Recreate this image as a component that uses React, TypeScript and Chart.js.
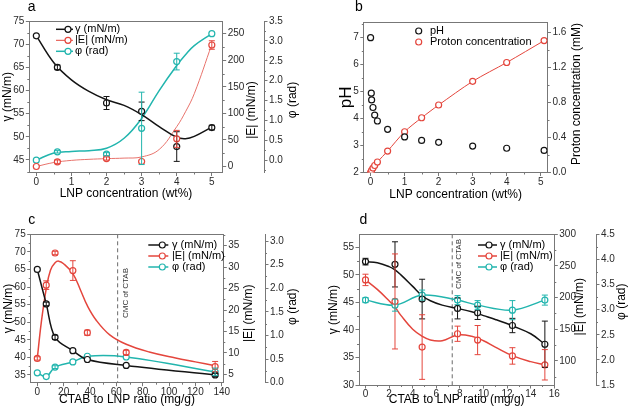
import React, { useEffect, useRef } from "react";
import { Chart, registerables } from "chart.js";

Chart.register(...registerables);

const FONT = "'Liberation Sans', Arial, Helvetica, sans-serif";
const BLACK = "#141414";
const RED = "#e4463d";
const RED_A = "#e8736c";
const CYAN = "#22b5ae";
const AXIS = "#777777";
const TICK = "#2a2a2a";

// ---------- Panel a ----------
const aX = [0, 0.6, 2, 3, 4, 5];
const aGamma = [71.8, 65.0, 57.3, 55.5, 47.9, 52.0];
const aGammaErr = [0, 0.5, 1.4, 2.0, 3.2, 0.5];
const aE = [0, 8.8, 15, 9.4, 52, 228.7];
const aEErr = [0, 3.5, 3, 0, 16, 8];
const aPhi = [0.0, 0.21, 0.15, 0.8, 2.48, 3.18];
const aPhiErr = [0, 0.03, 0.04, 0.91, 0.21, 0];
const aFitX = [0, 0.5, 1, 1.5, 2, 2.5, 3, 3.5, 4, 4.25, 4.5, 5];
const aGammaFit = [71.8, 66.0, 62.3, 59.8, 58.0, 56.8, 54.8, 52.2, 49.9, 49.6, 50.1, 52.1];
const aEFit = [0, 7.5, 11.5, 13.5, 14.8, 15.8, 18, 32, 75, 103, 137, 230];
const aPhiFit = [0.0, 0.18, 0.22, 0.24, 0.3, 0.55, 1.05, 1.75, 2.38, 2.65, 2.88, 3.18];
const aXTicks = [0, 1, 2, 3, 4, 5];
const aGammaTicks = [45, 50, 55, 60, 65, 70, 75];
const aETicks = [0, 50, 100, 150, 200, 250];
const aPhiTicks = [0, 0.5, 1, 1.5, 2, 2.5, 3, 3.5];

// ---------- Panel b ----------
const bX = [0, 0.02, 0.03, 0.07, 0.12, 0.2, 0.5, 1, 1.5, 2, 3, 4, 5.1];
const bPH = [7.0, 4.94, 4.69, 4.41, 4.13, 3.91, 3.6, 3.32, 3.19, 3.12, 2.98, 2.9, 2.82];
const bProton = [0.0, 0.01, 0.025, 0.05, 0.08, 0.12, 0.245, 0.465, 0.625, 0.77, 1.04, 1.255, 1.505];
const bXTicks = [0, 1, 2, 3, 4, 5];
const bPHTicks = [2, 3, 4, 5, 6, 7];
const bProtonTicks = [0, 0.4, 0.8, 1.2, 1.6];

// ---------- Panel c ----------
const cX = [0, 6.8, 13.5, 27, 38, 67.5, 135];
const cGamma = [65.0, 55.2, 45.7, 41.9, 39.4, 37.7, 35.0];
const cGammaErr = [0, 0.5, 0.6, 0, 0, 0, 0.4];
const cE = [8.7, 25.8, 33.3, 29.2, 14.7, 10.1, 6.8];
const cEErr = [0.4, 1.0, 0.4, 2.3, 0.6, 0.5, 1.2];
const cPhi = [0.21, 0.13, 0.33, 0.44, 0.56, 0.545, 0.23];
const cPhiErr = [0, 0, 0.03, 0, 0, 0, 0.08];
const cEFitX = [0, 3, 6.8, 10, 13.5, 16.2, 20, 27, 33, 38, 45, 55, 67.5, 85, 105, 120, 135];
const cEFit = [8.7, 17, 25, 29.3, 31, 31.4, 30.8, 28.5, 24.5, 21, 17.5, 14.2, 12, 10.2, 8.8, 7.9, 7];
const cXTicks = [0, 20, 40, 60, 80, 100, 120, 140];
const cGammaTicks = [35, 40, 45, 50, 55, 60, 65, 70, 75];
const cETicks = [5, 10, 15, 20, 25, 30, 35];
const cPhiTicks = [0, 0.5, 1, 1.5, 2, 2.5, 3];
const cCMC = 61;

// ---------- Panel d ----------
const dX = [0, 2.5, 4.8, 7.8, 9.5, 12.45, 15.2];
const dGamma = [52.4, 51.9, 45.6, 43.9, 43.1, 40.8, 37.4];
const dGammaErr = [0.6, 4.1, 3.6, 1.9, 1.2, 1.3, 4.2];
const dE = [228, 194, 122, 143, 133, 108, 94];
const dEErr = [9, 75, 51, 12, 23, 13, 24];
const dPhi = [3.19, 3.09, 3.29, 3.19, 3.09, 2.99, 3.19];
const dPhiErr = [0.05, 0.12, 0.1, 0.09, 0.09, 0.19, 0.1];
const dFitX = [0, 1, 2, 2.5, 3, 4, 4.8, 5.5, 6.5, 7.8, 9, 10, 11, 12.5, 14, 15.2];
const dGammaFit = [52.4, 52.2, 51.5, 50.9, 50.0, 47.9, 46.2, 45.3, 44.5, 43.9, 43.3, 42.6, 41.9, 40.7, 39.3, 37.4];
const dEFit = [228, 213, 195, 185, 172, 150, 139, 133, 132, 141, 139, 132, 122, 108, 99, 94];
const dXTicks = [0, 2, 4, 6, 8, 10, 12, 14, 16];
const dGammaTicks = [30, 35, 40, 45, 50, 55];
const dETicks = [100, 150, 200, 250, 300];
const dPhiTicks = [1.5, 2, 2.5, 3, 3.5, 4, 4.5];
const dCMC = 7.35;

const LEG_GAMMA = "γ (mN/m)";
const LEG_E = "|E| (mN/m)";
const LEG_PHI = "φ (rad)";

function pts(xs: number[], ys: number[]) {
  return xs.map((x, i) => ({ x, y: ys[i] }));
}

function pointDs(xs: number[], ys: number[], color: string, axis: string, errs?: number[]) {
  return {
    data: pts(xs, ys),
    yAxisID: axis,
    showLine: false,
    borderColor: color,
    backgroundColor: "#ffffff",
    pointRadius: 3,
    pointBorderWidth: 1.2,
    pointBackgroundColor: "#ffffff",
    pointBorderColor: color,
    errors: errs,
  };
}

function curveDs(xs: number[], ys: number[], color: string, axis: string, width: number, tension = 0.4) {
  return {
    data: pts(xs, ys),
    yAxisID: axis,
    borderColor: color,
    borderWidth: width,
    pointRadius: 0,
    tension,
    fill: false,
  };
}

function axisOpt(o: any) {
  const horizontal = o.pos === "bottom";
  return {
    type: "linear",
    position: o.pos,
    min: o.min,
    max: o.max,
    weight: o.weight ?? 0,
    afterBuildTicks: (s: any) => {
      s.ticks = o.ticks.map((v: number) => ({ value: v }));
    },
    afterFit: (s: any) => {
      if (horizontal) s.height = o.size;
      else s.width = o.size;
    },
    grid: { display: true, drawOnChartArea: false, drawTicks: true, tickLength: 3.5, color: AXIS, lineWidth: 1 },
    border: { display: true, color: AXIS, width: 1 },
    ticks: {
      autoSkip: false,
      maxRotation: 0,
      minRotation: 0,
      padding: horizontal ? 0 : 1.5,
      color: TICK,
      font: { family: FONT, size: 10 },
      callback: (v: any) => Number(v).toFixed(o.dec ?? 0),
    },
    title: o.title
      ? {
          display: true,
          text: o.title,
          color: "#000",
          font: { family: FONT, size: o.titleSize ?? 12 },
          padding: horizontal ? { top: 0, bottom: o.titlePad } : { top: o.titlePad, bottom: 0 },
        }
      : { display: false },
  };
}

function decorPlugin(d: any) {
  return {
    id: "decor",
    beforeDatasetsDraw(chart: any) {
      const ctx = chart.ctx;
      const { top, bottom } = chart.chartArea;
      if (d.cmc) {
        const x = chart.scales.x.getPixelForValue(d.cmc.value);
        ctx.save();
        ctx.strokeStyle = "#6a6a6a";
        ctx.lineWidth = 1;
        ctx.setLineDash([4, 3]);
        ctx.beginPath();
        ctx.moveTo(x, top);
        ctx.lineTo(x, bottom);
        ctx.stroke();
        ctx.setLineDash([]);
        ctx.translate(x + d.cmc.dx, d.cmc.y);
        ctx.rotate(-Math.PI / 2);
        ctx.fillStyle = "#333";
        ctx.font = `8px ${FONT}`;
        ctx.textAlign = "center";
        ctx.textBaseline = "middle";
        ctx.fillText(d.cmc.text, 0, 0);
        ctx.restore();
      }
    },
    afterDatasetsDraw(chart: any) {
      const ctx = chart.ctx;
      const a = chart.chartArea;
      ctx.save();
      ctx.beginPath();
      ctx.rect(a.left, a.top - 2, a.right - a.left, a.bottom - a.top + 4);
      ctx.clip();
      chart.data.datasets.forEach((ds: any) => {
        if (!ds.errors) return;
        const ys = chart.scales[ds.yAxisID];
        const xs = chart.scales.x;
        ctx.strokeStyle = ds.borderColor;
        ctx.lineWidth = 1;
        ds.data.forEach((p: any, j: number) => {
          const e = ds.errors[j];
          if (!e) return;
          const x = xs.getPixelForValue(p.x);
          const y1 = ys.getPixelForValue(p.y + e);
          const y2 = ys.getPixelForValue(p.y - e);
          ctx.beginPath();
          ctx.moveTo(x, y1);
          ctx.lineTo(x, y2);
          ctx.moveTo(x - 3, y1);
          ctx.lineTo(x + 3, y1);
          ctx.moveTo(x - 3, y2);
          ctx.lineTo(x + 3, y2);
          ctx.stroke();
        });
      });
      ctx.restore();
    },
    afterDraw(chart: any) {
      const ctx = chart.ctx;
      const a = chart.chartArea;
      ctx.save();
      // top frame
      ctx.strokeStyle = AXIS;
      ctx.lineWidth = 1;
      ctx.beginPath();
      ctx.moveTo(a.left, Math.round(a.top) + 0.5);
      ctx.lineTo(a.right, Math.round(a.top) + 0.5);
      ctx.stroke();
      // minor ticks
      Object.values(chart.scales).forEach((s: any) => {
        const vals = s.ticks.map((t: any) => t.value);
        if (vals.length < 2) return;
        const step = vals[1] - vals[0];
        const minors: number[] = [];
        for (let i = 0; i < vals.length - 1; i++) minors.push((vals[i] + vals[i + 1]) / 2);
        if (vals[0] - step / 2 >= s.min) minors.push(vals[0] - step / 2);
        if (vals[vals.length - 1] + step / 2 <= s.max) minors.push(vals[vals.length - 1] + step / 2);
        ctx.beginPath();
        minors.forEach((v) => {
          const p = Math.round(s.getPixelForValue(v)) + 0.5;
          if (s.position === "bottom") {
            ctx.moveTo(p, s.top);
            ctx.lineTo(p, s.top + 2);
          } else if (s.position === "left") {
            ctx.moveTo(s.right, p);
            ctx.lineTo(s.right - 2, p);
          } else {
            ctx.moveTo(s.left, p);
            ctx.lineTo(s.left + 2, p);
          }
        });
        ctx.stroke();
      });
      // right titles
      (d.rightTitles || []).forEach((t: any) => {
        ctx.save();
        ctx.translate(t.x, t.y);
        ctx.rotate(-Math.PI / 2);
        ctx.fillStyle = "#000";
        ctx.font = `${t.size || 12}px ${FONT}`;
        ctx.textAlign = "center";
        ctx.textBaseline = "middle";
        ctx.fillText(t.text, 0, 0);
        ctx.restore();
      });
      // legend
      const lg = d.legend;
      if (lg) {
        lg.items.forEach((it: any, i: number) => {
          const y = lg.y0 + i * lg.dy;
          if (it.line) {
            ctx.strokeStyle = it.color;
            ctx.lineWidth = it.lw;
            ctx.beginPath();
            ctx.moveTo(lg.x0, y);
            ctx.lineTo(lg.x0 + lg.len, y);
            ctx.stroke();
          }
          const cx = lg.x0 + lg.mk;
          ctx.beginPath();
          ctx.arc(cx, y, 3, 0, Math.PI * 2);
          ctx.fillStyle = "#fff";
          ctx.fill();
          ctx.strokeStyle = it.color;
          ctx.lineWidth = 1.2;
          ctx.stroke();
          ctx.fillStyle = "#000";
          ctx.font = `11px ${FONT}`;
          ctx.textAlign = "left";
          ctx.textBaseline = "middle";
          ctx.fillText(it.label, lg.tx, y);
        });
      }
      // panel letter
      if (d.letter) {
        ctx.fillStyle = "#000";
        ctx.font = `14px ${FONT}`;
        ctx.textAlign = "center";
        ctx.textBaseline = "middle";
        ctx.fillText(d.letter.text, d.letter.x, d.letter.y);
      }
      ctx.restore();
    },
  };
}

function baseOptions(padding: any, scales: any) {
  return {
    responsive: false,
    animation: false,
    devicePixelRatio: 1,
    events: [],
    layout: { padding },
    plugins: { legend: { display: false }, tooltip: { enabled: false }, title: { display: false } },
    scales,
  };
}

const threeLegend = (x0: number, y0: number, len: number, mk: number, tx: number, redLw: number) => ({
  x0,
  y0,
  dy: 11,
  len,
  mk,
  tx,
  items: [
    { label: LEG_GAMMA, color: BLACK, line: true, lw: 1.5 },
    { label: LEG_E, color: RED, line: true, lw: redLw },
    { label: LEG_PHI, color: CYAN, line: true, lw: 1.5 },
  ],
});

function configA() {
  return {
    type: "line",
    data: {
      datasets: [
        pointDs(aX, aGamma, BLACK, "y", aGammaErr),
        pointDs(aX, aE, RED, "y1", aEErr),
        pointDs(aX, aPhi, CYAN, "y2", aPhiErr),
        curveDs(aFitX, aGammaFit, BLACK, "y", 1.5),
        curveDs(aFitX, aEFit, RED_A, "y1", 1),
        curveDs(aFitX, aPhiFit, CYAN, "y2", 1.5),
      ],
    },
    options: baseOptions(
      { left: 0, top: 21, right: 11, bottom: 0 },
      {
        x: axisOpt({ pos: "bottom", min: -0.2, max: 5.31, ticks: aXTicks, size: 32.5, title: "LNP concentration (wt%)", titlePad: 4.5 }),
        y: axisOpt({ pos: "left", min: 42.3, max: 75, ticks: aGammaTicks, size: 29.3, title: "γ (mN/m)", titlePad: 0 }),
        y1: axisOpt({ pos: "right", min: -11.3, max: 273.9, ticks: aETicks, size: 41.3, weight: 0 }),
        y2: axisOpt({ pos: "right", min: -0.31, max: 3.5, ticks: aPhiTicks, size: 40, weight: 1, dec: 1 }),
      }
    ),
    plugins: [
      decorPlugin({
        letter: { text: "a", x: 31.7, y: 7.5 },
        rightTitles: [
          { text: "|E| (mN/m)", x: 252, y: 110 },
          { text: "φ (rad)", x: 292.5, y: 100 },
        ],
        legend: threeLegend(56, 29.3, 17, 12, 75, 1),
      }),
    ],
  };
}

function configB() {
  const red = pointDs(bX, bProton, RED, "y1") as any;
  red.showLine = true;
  red.borderWidth = 1;
  red.tension = 0.3;
  return {
    type: "line",
    data: {
      datasets: [pointDs(bX, bPH, BLACK, "y"), red],
    },
    options: baseOptions(
      { left: 0, top: 22.3, right: 0, bottom: 0 },
      {
        x: axisOpt({ pos: "bottom", min: -0.2, max: 5.2, ticks: bXTicks, size: 32.5, title: "LNP concentration (wt%)", titlePad: 3.5 }),
        y: axisOpt({ pos: "left", min: 2, max: 7.57, ticks: bPHTicks, size: 48.8, title: "pH", titleSize: 17, titlePad: 21.5 }),
        y1: axisOpt({ pos: "right", min: 0, max: 1.714, ticks: bProtonTicks, size: 82.5, dec: 1 }),
      }
    ),
    plugins: [
      decorPlugin({
        letter: { text: "b", x: 44, y: 7.5 },
        rightTitles: [{ text: "Proton concentration (mM)", x: 261.7, y: 94 }],
        legend: {
          x0: 103.7,
          y0: 31,
          dy: 11,
          len: 0,
          mk: 0,
          tx: 115,
          items: [
            { label: "pH", color: BLACK, line: false },
            { label: "Proton concentration", color: RED, line: false },
          ],
        },
      }),
    ],
  };
}

function configC() {
  return {
    type: "line",
    data: {
      datasets: [
        pointDs(cX, cGamma, BLACK, "y", cGammaErr),
        pointDs(cX, cE, RED, "y1", cEErr),
        pointDs(cX, cPhi, CYAN, "y2", cPhiErr),
        curveDs(cX, cGamma, BLACK, "y", 1.5, 0.35),
        curveDs(cEFitX, cEFit, RED, "y1", 1.5),
        curveDs(cX, cPhi, CYAN, "y2", 1.5, 0.35),
      ],
    },
    options: baseOptions(
      { left: 0, top: 29.3, right: 10, bottom: 0 },
      {
        x: axisOpt({ pos: "bottom", min: -5, max: 141.2, ticks: cXTicks, size: 33.3, title: "CTAB to LNP ratio (mg/g)", titlePad: 9.5 }),
        y: axisOpt({ pos: "left", min: 32.8, max: 75, ticks: cGammaTicks, size: 30.7, title: "γ (mN/m)", titlePad: 1.1 }),
        y1: axisOpt({ pos: "right", min: 3.04, max: 37.66, ticks: cETicks, size: 41.7, weight: 0 }),
        y2: axisOpt({ pos: "right", min: 0, max: 3.144, ticks: cPhiTicks, size: 40, weight: 1, dec: 1 }),
      }
    ),
    plugins: [
      decorPlugin({
        letter: { text: "c", x: 31.7, y: 15 },
        rightTitles: [
          { text: "|E| (mN/m)", x: 248.3, y: 108.3 },
          { text: "φ (rad)", x: 292.3, y: 101.7 },
        ],
        legend: threeLegend(148.3, 40, 20, 14, 172, 1.5),
        cmc: { value: cCMC, text: "CMC of CTAB", dx: 7.7, y: 88 },
      }),
    ],
  };
}

function configD() {
  return {
    type: "line",
    data: {
      datasets: [
        pointDs(dX, dGamma, BLACK, "y", dGammaErr),
        pointDs(dX, dE, RED, "y1", dEErr),
        pointDs(dX, dPhi, CYAN, "y2", dPhiErr),
        curveDs(dFitX, dGammaFit, BLACK, "y", 1.5),
        curveDs(dFitX, dEFit, RED, "y1", 1.5),
        curveDs(dX, dPhi, CYAN, "y2", 1.5, 0.35),
      ],
    },
    options: baseOptions(
      { left: 0, top: 29.3, right: 4, bottom: 0 },
      {
        x: axisOpt({ pos: "bottom", min: -0.55, max: 16, ticks: dXTicks, size: 31, title: "CTAB to LNP ratio (mg/g)", titlePad: 9.5 }),
        y: axisOpt({ pos: "left", min: 30, max: 57.36, ticks: dGammaTicks, size: 44, title: "γ (mN/m)", titlePad: 11.1 }),
        y1: axisOpt({ pos: "right", min: 62.1, max: 300, ticks: dETicks, size: 41.7, weight: 0 }),
        y2: axisOpt({ pos: "right", min: 1.5, max: 4.5, ticks: dPhiTicks, size: 30, weight: 1, dec: 1 }),
      }
    ),
    plugins: [
      decorPlugin({
        letter: { text: "d", x: 48.3, y: 15 },
        rightTitles: [
          { text: "|E| (mN/m)", x: 264.5, y: 101.7 },
          { text: "φ (rad)", x: 306.5, y: 96.7 },
        ],
        legend: threeLegend(163, 40, 19, 11, 185, 1.5),
        cmc: { value: dCMC, text: "CMC of CTAB", dx: 7, y: 59 },
      }),
    ],
  };
}

function Panel(props: { left: number; top: number; w: number; h: number; make: () => any }) {
  const ref = useRef<HTMLCanvasElement | null>(null);
  useEffect(() => {
    if (!ref.current) return;
    const chart = new Chart(ref.current, props.make());
    return () => chart.destroy();
  }, []);
  return (
    <div style={{ position: "absolute", left: props.left, top: props.top, width: props.w, height: props.h }}>
      <canvas ref={ref} width={props.w} height={props.h} style={{ display: "block", width: props.w, height: props.h }} />
    </div>
  );
}

export default function App() {
  return (
    <div style={{ position: "absolute", left: 0, top: 0, width: 630, height: 416, background: "#fff", overflow: "hidden" }}>
      <Panel left={0} top={0} w={315} h={205} make={configA} />
      <Panel left={315} top={0} w={315} h={205} make={configB} />
      <Panel left={0} top={205} w={315} h={211} make={configC} />
      <Panel left={315} top={205} w={315} h={211} make={configD} />
    </div>
  );
}
